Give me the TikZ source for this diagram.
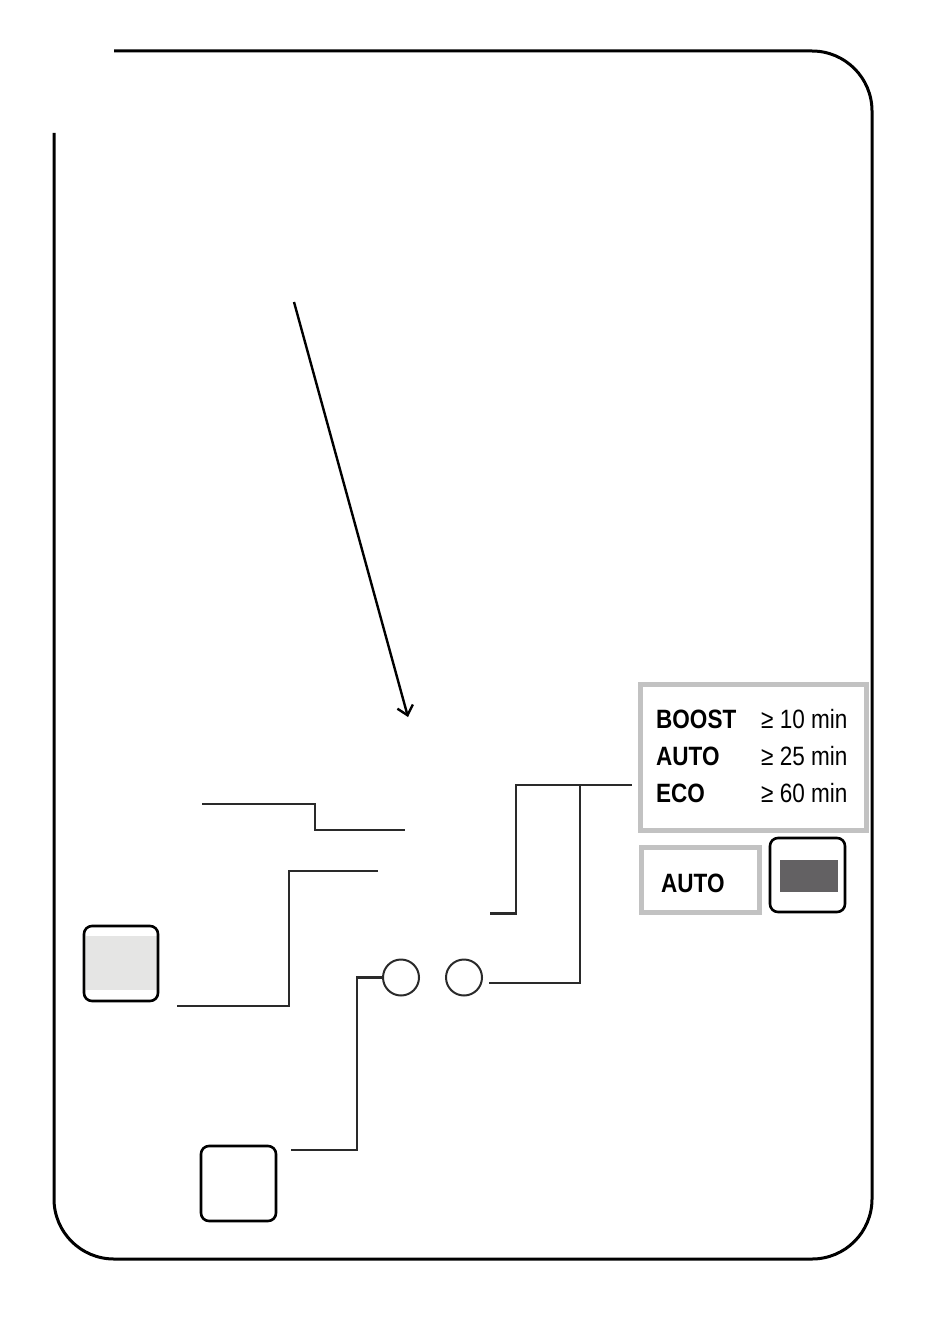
\documentclass[tikz,border=0pt]{standalone}
\usepackage{fontspec}
\setmainfont{Liberation Sans}
\newfontfamily\labfont{Liberation Sans}[FakeStretch=0.85]
\usetikzlibrary{arrows.meta}
\definecolor{boxgrey}{HTML}{C2C2C2}
\definecolor{fillgrey}{HTML}{E5E5E4}
\definecolor{darkfill}{HTML}{636163}
\definecolor{wire}{HTML}{2A2A2A}
\begin{document}
\begin{tikzpicture}[x=1pt,y=-1pt,
  frame/.style={line width=3pt,black},
  wireline/.style={line width=2.2pt,wire},
  button/.style={draw=black,line width=2.6pt,rounded corners=8pt,inner sep=0pt},
  lamp/.style={circle,draw=wire,line width=2pt,minimum size=36pt,inner sep=0pt},
  greybox/.style={draw=boxgrey,line width=5pt,inner sep=0pt},
  lab/.style={font=\labfont\fontsize{26.5}{26.5}\selectfont,anchor=base west,inner sep=0pt},
  blab/.style={lab,font=\labfont\bfseries\fontsize{26.5}{26.5}\selectfont}
]
\useasboundingbox (0,0) rectangle (933,1324);
% outer frame
\draw[frame,rounded corners=60pt] (54,133) -- (54,1259) -- (872,1259) -- (872,51) -- (114,51);
% arrow
\coordinate (a1) at (294,302);
\coordinate (a2) at (408,717);
\draw[line width=2.4pt,-{Straight Barb[length=9pt,width=16pt,line width=2.4pt]}] (a1) -- (a2);
% buttons
\fill[fillgrey] (86,936) rectangle (157,990);
\node[button,minimum width=74pt,minimum height=75pt] (btnA) at (121,963.5) {};
\node[button,minimum width=75pt,minimum height=75pt] (btnB) at (238.5,1183.5) {};
\fill[darkfill] (780,860) rectangle (838,892);
\node[button,minimum width=75pt,minimum height=74pt] (btnC) at (807.5,875) {};
% lamps
\node[lamp] (l1) at (401,977.5) {};
\node[lamp] (l2) at (464,977.5) {};
% grey boxes
\node[greybox,minimum width=226pt,minimum height=146pt] (tab) at (753.5,757.5) {};
\node[greybox,minimum width=118pt,minimum height=65pt] (auto) at (700.5,880) {};
% table text
\node[blab] (t1) at (656,728) {BOOST};
\node[blab] (t2) at (656,765) {AUTO};
\node[blab] (t3) at (656,802) {ECO};
\node[lab] (v1) at (761,728) {≥ 10 min};
\node[lab] (v2) at (761,765) {≥ 25 min};
\node[lab] (v3) at (761,802) {≥ 60 min};
\node[blab] (t4) at (661,892) {AUTO};
% wires
\coordinate (w1a) at (202,804);
\coordinate (w1b) at (405,830);
\draw[wireline] (w1a) -- (315,804) -- (315,830) -- (w1b);
\coordinate (w2a) at (378,871);
\coordinate (w2b) at (177,1006);
\draw[wireline] (w2a) -- (289,871) -- (289,1006) -- (w2b);
\coordinate (w3b) at (291,1150);
\draw[wireline] (l1.west) -- (357,977.5) -- (357,1150) -- (w3b);
\coordinate (w4a) at (489,983);
\coordinate (w4t) at (632,785);
\draw[wireline] (w4a) -- (580,983) -- (580,785);
\coordinate (w5a) at (490,913.5);
\draw[wireline] (w5a) -- (516,913.5) -- (516,785) -- (w4t);
\end{tikzpicture}
\end{document}
